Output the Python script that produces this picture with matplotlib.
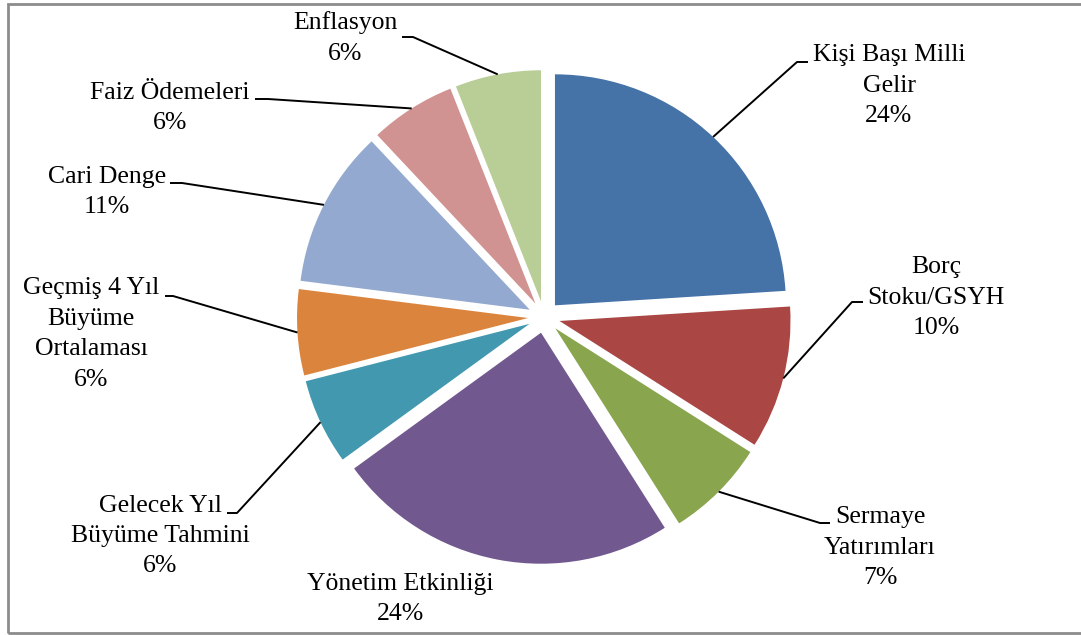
import numpy as np
import matplotlib.pyplot as plt
from matplotlib.patches import Rectangle

plt.rcParams['font.family'] = ['Liberation Serif', 'DejaVu Serif']

# kriter agirliklari (%)
labels = ['Kişi Başı Milli\nGelir', 'Borç\nStoku/GSYH', 'Sermaye\nYatırımları',
          'Yönetim Etkinliği', 'Gelecek Yıl\nBüyüme Tahmini',
          'Geçmiş 4 Yıl\nBüyüme\nOrtalaması', 'Cari Denge', 'Faiz Ödemeleri', 'Enflasyon']
shares = [24, 10, 7, 24, 6, 6, 11, 6, 6]
colors = ['#4572A7', '#AA4643', '#89A54E', '#71588F', '#4198AF',
          '#DB843D', '#93A9CF', '#D19392', '#B9CD96']

# etiket merkezleri (piksel, ust-sol orijin) ve kirik cizgi dirsekleri
label_pos = [(889, 86), (936, 298), (880, 548), (400, 599), (160, 536),
             (91, 334), (107, 192), (170, 108), (345, 38)]
elbows = [[(808, 62), (797, 62)], [(863, 302), (852, 302)], [(830, 523), (820, 523)],
          None, [(227, 513), (237, 513)], [(165, 296), (173, 296)],
          [(170, 183), (182, 183)], [(255, 99), (268, 99)], [(402, 37), (413, 37)]]

W, H = 1081, 635
fig = plt.figure(figsize=(W / 100, H / 100), dpi=100)
ax = fig.add_axes([0, 0, 1, 1])

cx, cy, r = 544, 317, 231
expl = 16  # piksel cinsinden kaydirma
# y ekseni ters oldugu icin saat yonu counterclock=True ile elde edilir
wedges, _ = ax.pie(shares, colors=colors, startangle=-90, counterclock=True,
                   explode=[expl] * len(shares), center=(cx, cy), radius=r,
                   wedgeprops=dict(linewidth=0))
ax.set_xlim(0, W)
ax.set_ylim(H, 0)
ax.set_aspect('equal')
ax.axis('off')

for w, lab, v, pos, elb in zip(wedges, labels, shares, label_pos, elbows):
    ax.text(pos[0], pos[1], f'{lab}\n{v}%', ha='center', va='center',
            fontsize=18.5, linespacing=1.5, color='black')
    if elb is None:
        continue
    mid = np.deg2rad((w.theta1 + w.theta2) / 2)
    px = w.center[0] + w.r * np.cos(mid)
    py = w.center[1] + w.r * np.sin(mid)
    xs = [elb[0][0], elb[1][0], px]
    ys = [elb[0][1], elb[1][1], py]
    ax.plot(xs, ys, color='black', lw=1.4, solid_capstyle='butt')

fig.patches.append(Rectangle((8 / W, 2 / H), 1.1, (631 - 2) / H, transform=fig.transFigure,
                             fill=False, edgecolor='#8c8c8c', lw=2))

fig.savefig('out.png', dpi=100)
